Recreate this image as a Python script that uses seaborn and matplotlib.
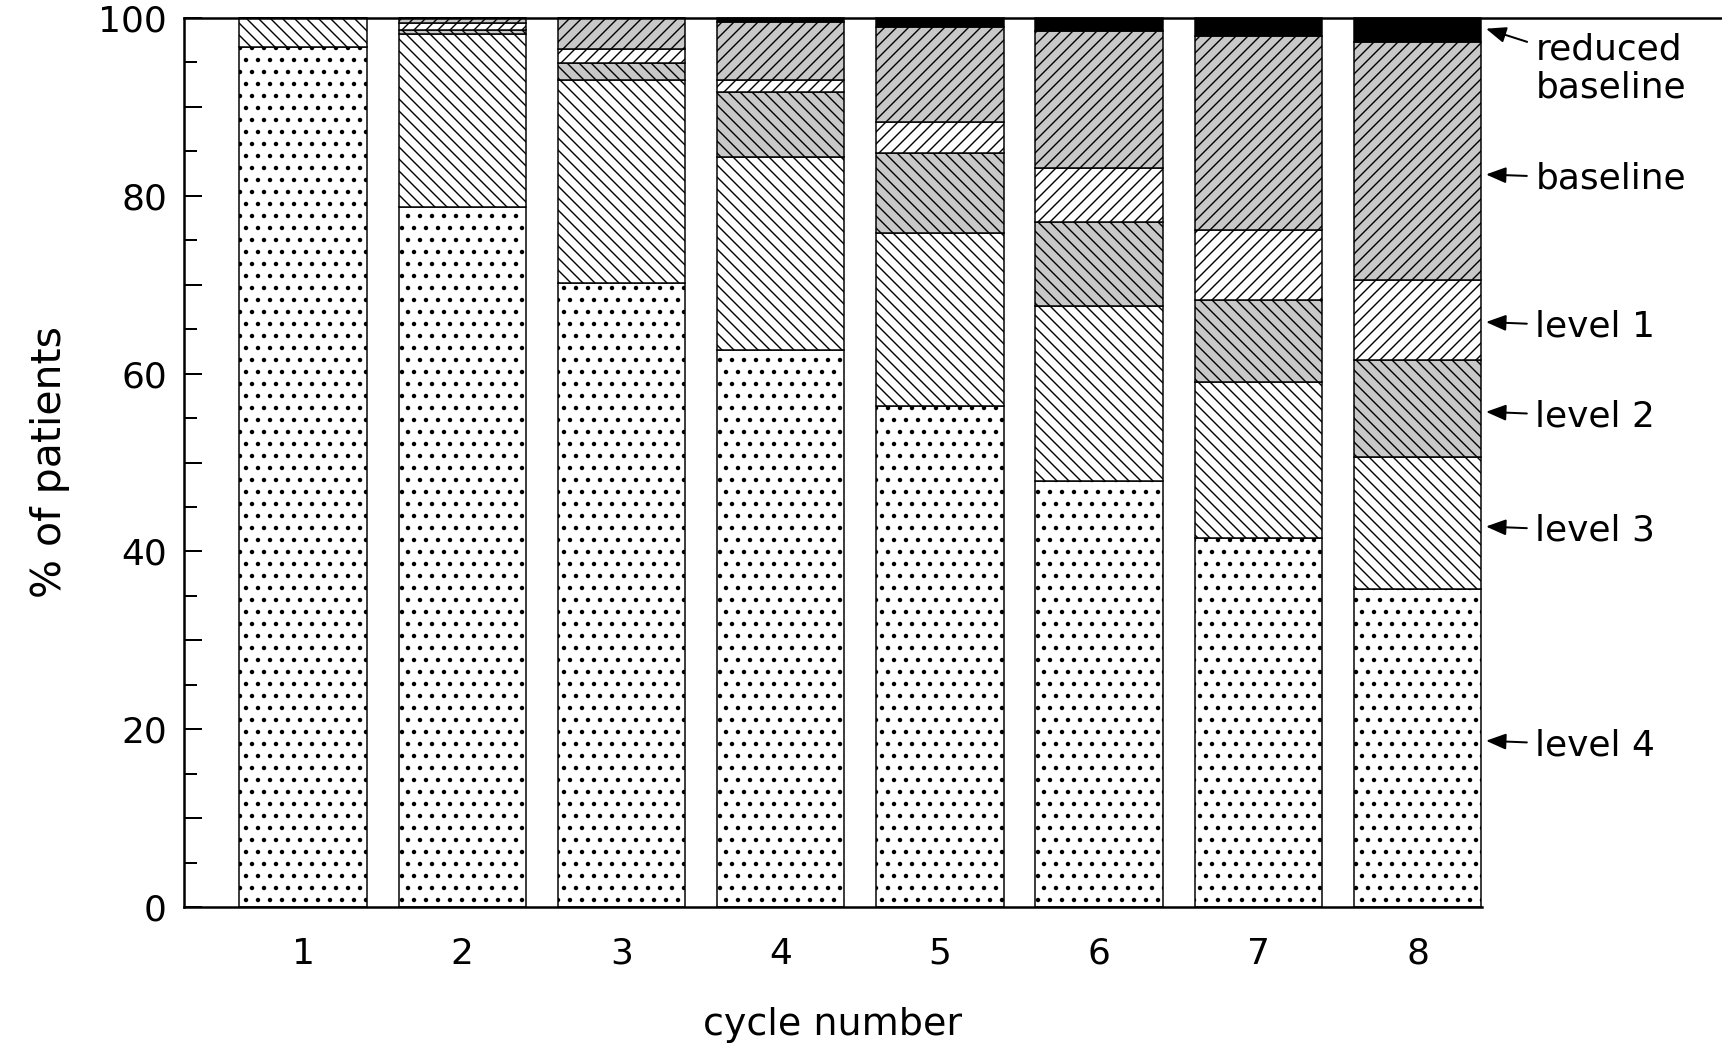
import numpy as np
import pandas as pd
import matplotlib.pyplot as plt
from matplotlib.ticker import MultipleLocator
import seaborn as sns

# -------------------------
# data (percent of patients per dose level)
# -------------------------
cycles = [1, 2, 3, 4, 5, 6, 7, 8]
level4 = [96.7, 78.7, 70.2, 62.7, 56.3, 47.9, 41.5, 35.8]
level3 = [3.3, 19.5, 22.8, 21.7, 19.5, 19.7, 17.5, 14.8]
level2 = [0.0, 0.5, 1.9, 7.3, 9.0, 9.5, 9.3, 10.9]
level1 = [0.0, 0.7, 1.6, 1.3, 3.5, 6.0, 7.8, 9.0]
baseline = [0.0, 0.6, 3.5, 6.6, 10.7, 15.4, 21.9, 26.8]
reduced = [0.0, 0.0, 0.0, 0.4, 1.0, 1.5, 2.0, 2.7]

# top of the stack first (seaborn stacks the last hue level at the bottom)
levels = ['reduced baseline', 'baseline', 'level 1', 'level 2', 'level 3', 'level 4']
series = {
    'reduced baseline': reduced,
    'baseline': baseline,
    'level 1': level1,
    'level 2': level2,
    'level 3': level3,
    'level 4': level4,
}

rows = []
for name in levels:
    for c, v in zip(cycles, series[name]):
        rows.append({'cycle': c, 'pct': v, 'level': name})
df = pd.DataFrame(rows)

# fill colour and hatch per level
styles = {
    'level 4': ('white', '.'),
    'level 3': ('white', '\\\\'),
    'level 2': ('#c8c8c8', '\\\\'),
    'level 1': ('white', '//'),
    'baseline': ('#c8c8c8', '//'),
    'reduced baseline': ('black', ''),
}

# where the side labels sit (arrow tip y, text y)
label_arrow_y = [98.8, 82.4, 65.8, 55.7, 42.8, 18.7]
label_text_y = [94.3, 81.9, 65.3, 55.2, 42.3, 18.2]

# -------------------------
# style
# -------------------------
sns.set_style('ticks')
plt.rcParams['font.family'] = ['DejaVu Sans']
plt.rcParams['hatch.linewidth'] = 1.4
for key in ['text.color', 'axes.labelcolor', 'xtick.color', 'ytick.color', 'axes.edgecolor']:
    plt.rcParams[key] = 'black'

fig = plt.figure(figsize=(1722 / 72, 1044 / 72), dpi=72)
ax = fig.add_axes([184 / 1722, 137 / 1044, (1482 - 184) / 1722, (907 - 18) / 1044])

sns.histplot(
    data=df, x='cycle', weights='pct', hue='level', hue_order=levels,
    multiple='stack', discrete=True, shrink=0.8, legend=False, ax=ax,
    edgecolor='black', linewidth=1.5, alpha=1,
)

for cont in ax.containers:
    heights = [p.get_height() for p in cont]
    for name in levels:
        if np.allclose(heights, series[name]):
            face, hatch = styles[name]
            for p in cont:
                p.set_facecolor(face)
                p.set_edgecolor('black')
                p.set_hatch(hatch)
                p.set_clip_on(False)
                # bigger dots for the dotted level
                if hatch == '.' and hasattr(p, 'set_hatch_linewidth'):
                    p.set_hatch_linewidth(2.0)
            break

# -------------------------
# axes
# -------------------------
ax.set_xlim(0.252, 8.405)
ax.set_ylim(0, 100)
ax.set_xticks(cycles)
ax.set_xticklabels([str(c) for c in cycles])
yt = list(range(0, 101, 10))
ax.set_yticks(yt)
ax.set_yticklabels([str(v) if v % 20 == 0 else '' for v in yt])
ax.yaxis.set_minor_locator(MultipleLocator(5))

ax.tick_params(axis='y', which='major', direction='in', length=18, width=2,
               labelsize=36, pad=17)
ax.tick_params(axis='y', which='minor', direction='in', length=13, width=2)
ax.tick_params(axis='x', length=0, labelsize=36, pad=30)

for side in ['left', 'bottom', 'top']:
    ax.spines[side].set_linewidth(2.5)
ax.spines['right'].set_visible(False)
ax.spines['top'].set_bounds(0.252, 9.92)

ax.set_xlabel('cycle number', fontsize=38, labelpad=36)
ax.set_ylabel('% of patients', fontsize=41, labelpad=28)

# -------------------------
# labels on the right, pointing at the last bar
# -------------------------
arrow = dict(arrowstyle='-|>,head_length=0.7,head_width=0.28', color='black',
             lw=2, shrinkA=6, shrinkB=0, mutation_scale=24)
for name, ya, yt_ in zip(levels, label_arrow_y, label_text_y):
    label = 'reduced\nbaseline' if name == 'reduced baseline' else name
    ax.annotate(label, xy=(8.43, ya), xytext=(8.74, yt_),
                ha='left', va='center', fontsize=36, linespacing=1.15,
                arrowprops=arrow, annotation_clip=False)

plt.savefig('out.png', dpi=72)
